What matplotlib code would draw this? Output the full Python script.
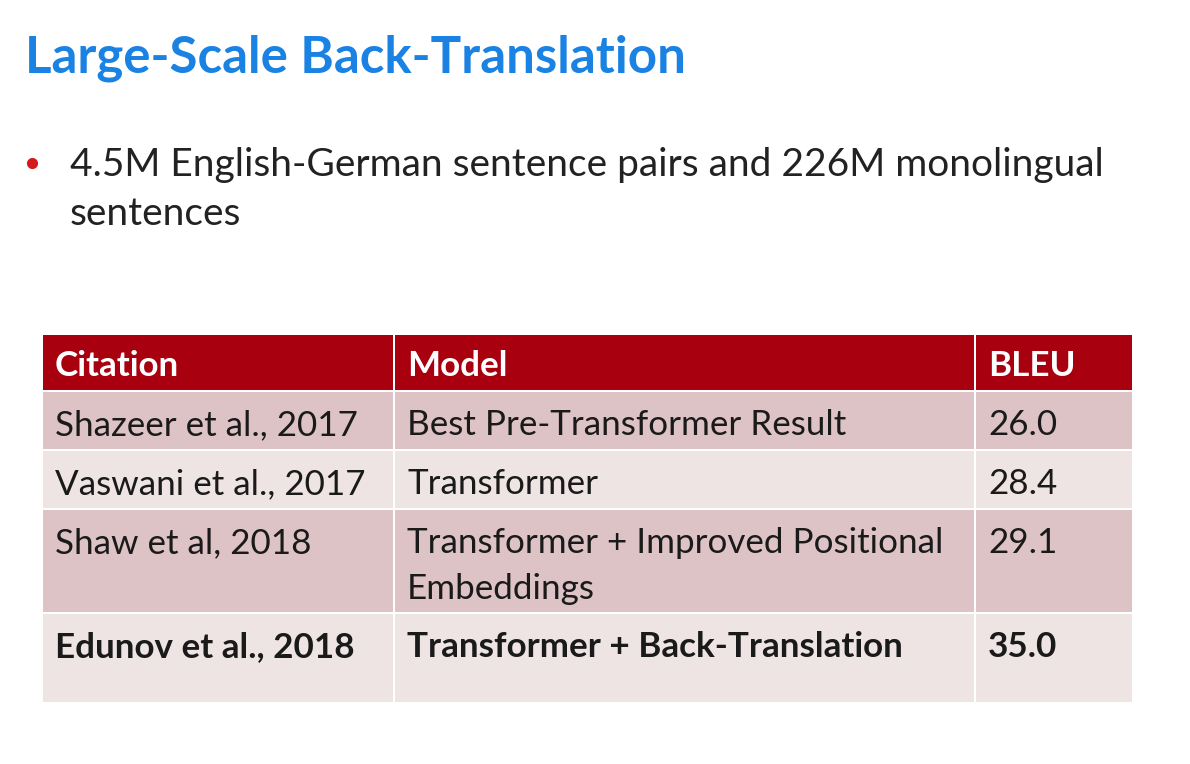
import matplotlib.pyplot as plt
from matplotlib.patches import Rectangle

TITLE = "Large-Scale Back-Translation"
BULLET_LINES = ["4.5M English-German sentence pairs and 226M monolingual", "sentences"]

HEADERS = ["Citation", "Model", "BLEU"]
CITATIONS = ["Shazeer et al., 2017", "Vaswani et al., 2017", "Shaw et al, 2018", "Edunov et al., 2018"]
MODELS = ["Best Pre-Transformer Result", "Transformer",
          "Transformer + Improved Positional\nEmbeddings", "Transformer + Back-Translation"]
BLEU = ["26.0", "28.4", "29.1", "35.0"]
BOLD_ROW = [False, False, False, True]

FONT = "Lato"
W, H = 1190, 764

# table layout in pixels
COL_EDGES = [42, 394, 975, 1133]
ROW_EDGES = [334, 391, 450, 509, 613, 703]
GAP = 2.5
HEAD_COLOR = "#A8000F"
ROW_COLORS = ["#DEC3C6", "#EEE4E4"]
LINE_STEP = 46
TEXT_SIZE = 25.2


def main():
    fig = plt.figure(figsize=(W / 100, H / 100), dpi=100)
    ax = fig.add_axes([0, 0, 1, 1])
    ax.set_xlim(0, W)
    ax.set_ylim(H, 0)
    ax.axis("off")

    ax.text(25, 73, TITLE, fontsize=36.7, fontweight="bold", color="#1A82E2",
            family=FONT, va="baseline", ha="left")

    ax.plot([32], [163], "o", ms=7, color="#D41A1A")
    for i, line in enumerate(BULLET_LINES):
        ax.text(70, 176 + i * 49, line, fontsize=28, color="#222222",
                family=FONT, va="baseline", ha="left")

    # cells
    n_rows = len(CITATIONS) + 1
    for r in range(n_rows):
        y0, y1 = ROW_EDGES[r], ROW_EDGES[r + 1]
        color = HEAD_COLOR if r == 0 else ROW_COLORS[(r - 1) % 2]
        for c in range(3):
            x0, x1 = COL_EDGES[c], COL_EDGES[c + 1]
            ax.add_patch(Rectangle((x0 + GAP / 2, y0 + GAP / 2), x1 - x0 - GAP, y1 - y0 - GAP,
                                   facecolor=color, edgecolor="none"))

    text_x = [c + 13 for c in COL_EDGES[:3]]
    for c, h in enumerate(HEADERS):
        ax.text(text_x[c], 376, h, fontsize=TEXT_SIZE, fontweight="bold", color="white",
                family=FONT, va="baseline", ha="left")

    for i in range(len(CITATIONS)):
        y_top = ROW_EDGES[i + 1]
        weight = "bold" if BOLD_ROW[i] else "normal"
        for c, val in enumerate([CITATIONS[i], MODELS[i], BLEU[i]]):
            for k, line in enumerate(val.split("\n")):
                ax.text(text_x[c], y_top + 44 + k * LINE_STEP, line, fontsize=TEXT_SIZE,
                        fontweight=weight, color="#1a1a1a", family=FONT,
                        va="baseline", ha="left")

    fig.savefig("out.png", dpi=100)


if __name__ == "__main__":
    main()
